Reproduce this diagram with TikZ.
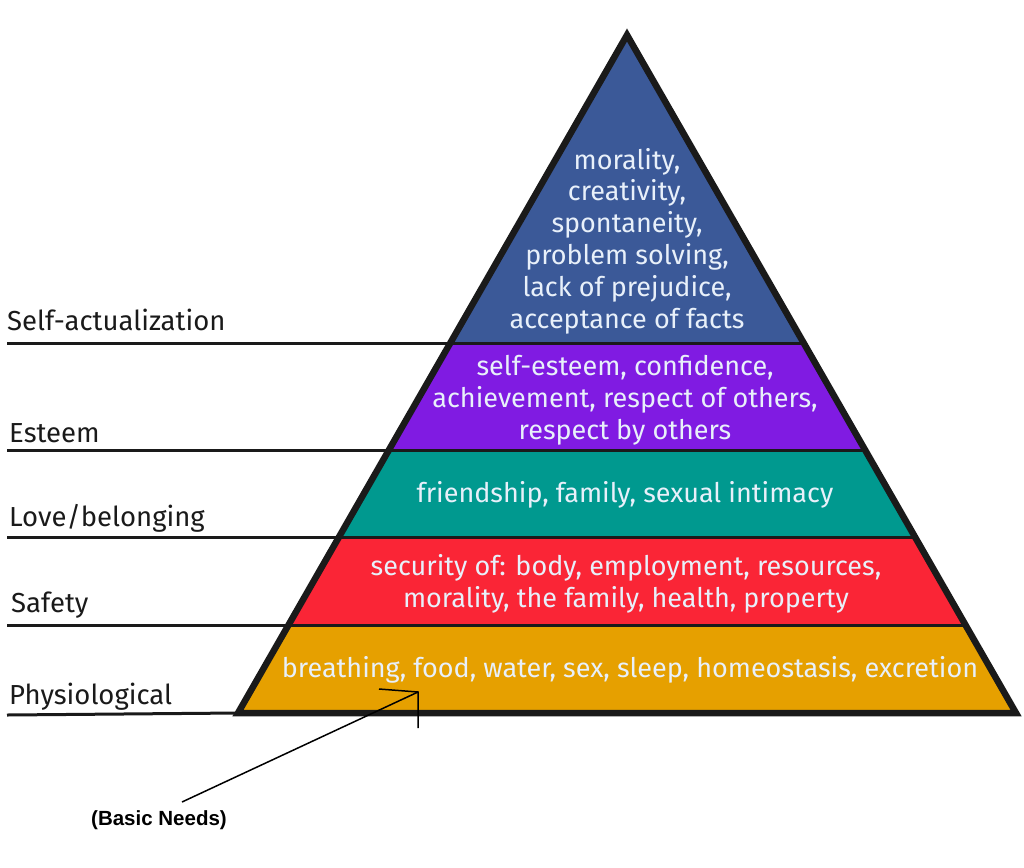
\documentclass[tikz,border=0pt]{standalone}
\usepackage{fontspec}
\setmainfont{Fira Sans}
\newfontfamily\arialb{Liberation Sans}
\definecolor{cblue}{HTML}{3B5998}
\definecolor{cpurple}{HTML}{801BE2}
\definecolor{cteal}{HTML}{00998F}
\definecolor{cred}{HTML}{FA2536}
\definecolor{corange}{HTML}{E6A000}
\definecolor{ctext}{HTML}{E8F0FA}
\definecolor{cline}{HTML}{1A1A1A}
\begin{document}
\begin{tikzpicture}[x=1pt,y=-1pt,
  band/.style={align=center,text=ctext,font=\fontsize{27}{31.8}\selectfont,inner sep=0pt},
  lvl/.style={anchor=base west,inner sep=0pt,text=cline,font=\fontsize{27.5}{30}\selectfont},
  sep/.style={draw=cline,line width=3pt},
  outline/.style={draw=cline,line width=6.5pt,line join=miter}]
\useasboundingbox (0,0) rectangle (1024,867);
\coordinate (A) at (627,35);
\coordinate (BL) at (238,713);
\coordinate (BR) at (1016,713);
% bands
\begin{scope}
\clip (A) -- (BL) -- (BR) -- cycle;
\fill[cblue] (0,0) rectangle (1024,343);
\fill[cpurple] (0,343) rectangle (1024,450);
\fill[cteal] (0,450) rectangle (1024,537);
\fill[cred] (0,537) rectangle (1024,625);
\fill[corange] (0,625) rectangle (1024,720);
\end{scope}
% separator lines
\coordinate (L1) at (7,343); \coordinate (R1) at (804,343);
\coordinate (L2) at (7,450); \coordinate (R2) at (865,450);
\coordinate (L3) at (7,537); \coordinate (R3) at (915,537);
\coordinate (L4) at (7,625); \coordinate (R4) at (966,625);
\coordinate (L5) at (7,715);
\draw[sep] (L1) -- (R1);
\draw[sep] (L2) -- (R2);
\draw[sep] (L3) -- (R3);
\draw[sep] (L4) -- (R4);
\draw[sep] (L5) -- (BL);
% outline
\draw[outline] (A) -- (BL) -- (BR) -- cycle;
% band texts
\node[band] (t1) at (627,241) {morality,\\creativity,\\spontaneity,\\problem solving,\\lack of prejudice,\\acceptance of facts};
\node[band] (t2) at (625,400) {self-esteem, confidence,\\achievement, respect of others,\\respect by others};
\node[band] (t3) at (625,495) {friendship, family, sexual intimacy};
\node[band] (t4) at (626,584) {security of: body, employment, resources,\\morality, the family, health, property};
\node[band] (t5) at (630,670) {breathing, food, water, sex, sleep, homeostasis, excretion};
% level labels
\node[lvl] (l1) at (7,330) {Self-actualization};
\node[lvl] (l2) at (9,442) {Esteem};
\node[lvl] (l3) at (9,526) {Love/belonging};
\node[lvl] (l4) at (11,612) {Safety};
\node[lvl] (l5) at (9,704) {Physiological};
% basic needs annotation
\node[font=\arialb\bfseries\fontsize{20.5}{23}\selectfont,inner sep=0pt] (bn) at (159,820) {(Basic Needs)};
\coordinate (tail) at (182,802);
\coordinate (tip) at (418,692);
\coordinate (hl) at (379,689);
\coordinate (hd) at (418,728);
\draw[line width=1.5pt] (tail) -- (tip);
\draw[line width=1.5pt] (hl) -- (tip) -- (hd);
\end{tikzpicture}
\end{document}
